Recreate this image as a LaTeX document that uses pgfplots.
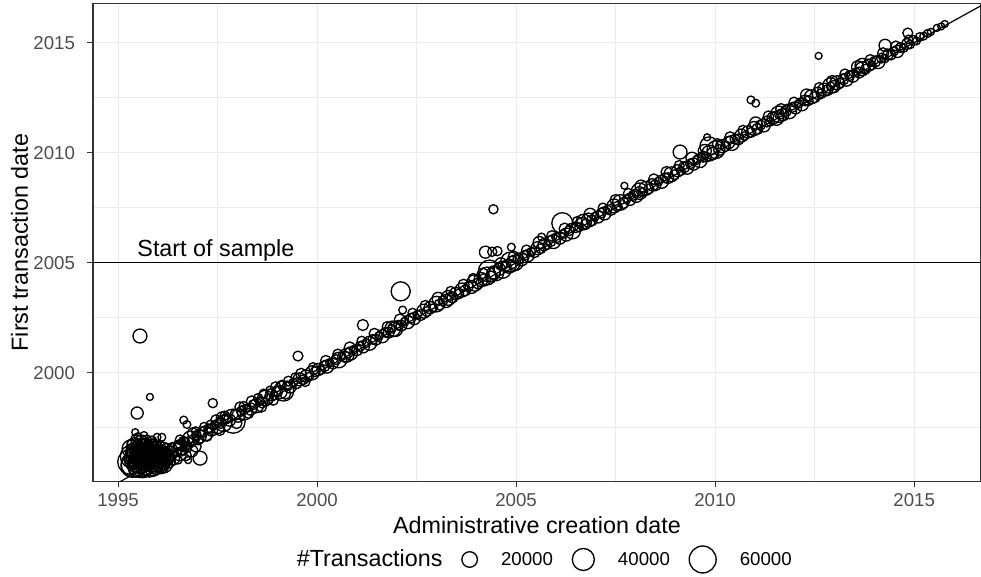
\documentclass[border=0pt]{standalone}
\usepackage{pgfplots}
\pgfplotsset{compat=1.18}
\usepackage{pgfplotstable}
\usepackage{fontspec}
\setmainfont{Liberation Sans}
\definecolor{gray20}{HTML}{333333}
\definecolor{gray30}{HTML}{4D4D4D}
\definecolor{gray92}{HTML}{EBEBEB}

\pgfplotstableread{
x y n
1995.30 1995.95 50
1995.35 1996.20 45
1995.40 1995.85 55
1995.45 1996.40 35
1995.50 1996.05 60
1995.55 1995.80 50
1995.60 1996.30 45
1995.65 1996.55 30
1995.70 1995.95 55
1995.75 1996.20 40
1995.80 1995.80 45
1995.85 1996.45 30
1995.90 1996.05 50
1995.95 1995.85 35
1996.00 1996.30 30
1996.05 1996.00 40
1996.10 1996.50 20
1996.15 1995.85 25
1996.20 1996.20 25
1996.25 1996.00 18
1996.30 1996.35 16
1996.38 1996.10 14
1995.32 1996.55 25
1995.42 1996.70 20
1995.55 1996.60 25
1995.70 1996.70 15
1995.80 1996.65 18
1995.95 1996.65 12
1995.35 1995.75 40
1995.62 1995.70 35
1995.88 1995.70 25
1996.08 1995.75 18
1995.45 1996.95 10
1995.58 1996.90 12
1995.72 1996.95 8
1995.85 1996.90 8
1995.50 1997.10 5
1995.65 1997.15 5
1995.40 1996.15 30
1995.58 1996.15 30
1995.75 1996.45 28
1995.92 1996.30 28
1996.12 1996.25 22
1995.48 1995.65 25
1995.78 1995.62 20
1996.22 1996.55 10
1996.35 1996.60 8
1995.38 1996.00 10
1995.44 1996.28 8
1995.52 1995.92 12
1995.58 1996.45 9
1995.64 1996.02 11
1995.68 1996.38 8
1995.74 1995.88 10
1995.82 1996.12 12
1995.86 1996.28 9
1995.94 1996.48 10
1996.00 1996.12 8
1996.04 1995.90 12
1996.10 1996.38 9
1996.16 1996.08 10
1996.24 1996.30 8
1995.36 1996.38 12
1995.48 1996.52 10
1995.62 1996.58 9
1995.46 1995.78 12
1995.70 1995.74 10
1995.90 1995.92 9
1996.20 1995.92 8
1995.54 1996.22 14
1995.78 1996.02 14
1995.98 1996.08 12
1996.28 1996.18 10
1995.66 1996.82 7
1995.90 1996.80 7
1995.34 1996.78 7
1996.06 1996.70 7
1995.32 1995.78 5
1995.41 1995.80 7
1995.52 1995.76 4
1995.61 1995.79 6
1995.72 1995.77 3
1995.81 1995.80 8
1995.92 1995.76 5
1996.01 1995.79 4
1996.12 1995.78 6
1996.21 1995.80 3
1995.36 1995.93 4
1995.47 1995.95 6
1995.56 1995.91 3
1995.66 1995.94 8
1995.77 1995.92 5
1995.86 1995.95 4
1995.97 1995.91 7
1996.06 1995.94 3
1996.17 1995.92 5
1996.27 1995.95 4
1995.31 1996.08 6
1995.42 1996.06 3
1995.51 1996.10 5
1995.62 1996.07 4
1995.71 1996.09 7
1995.82 1996.06 3
1995.91 1996.10 6
1996.02 1996.07 4
1996.11 1996.09 5
1996.22 1996.06 3
1996.32 1996.10 6
1995.35 1996.23 3
1995.46 1996.21 5
1995.57 1996.25 7
1995.66 1996.22 4
1995.76 1996.24 3
1995.87 1996.21 6
1995.96 1996.25 4
1996.07 1996.22 5
1996.16 1996.24 3
1996.27 1996.21 7
1995.32 1996.38 5
1995.41 1996.36 4
1995.52 1996.40 6
1995.61 1996.37 3
1995.72 1996.39 5
1995.81 1996.36 7
1995.92 1996.40 3
1996.01 1996.37 6
1996.12 1996.39 4
1996.21 1996.36 5
1995.37 1996.53 4
1995.47 1996.55 6
1995.56 1996.51 3
1995.67 1996.54 5
1995.77 1996.52 4
1995.86 1996.55 6
1995.97 1996.51 3
1996.06 1996.54 5
1996.16 1996.52 4
1995.42 1996.68 3
1995.52 1996.70 5
1995.62 1996.67 4
1995.71 1996.69 6
1995.82 1996.66 3
1995.91 1996.70 4
1996.01 1996.67 5
1996.55 1996.30 14
1996.70 1996.25 10
1996.85 1996.45 12
1996.62 1996.45 8
1996.95 1996.65 10
1995.48 1998.17 12
1995.80 1998.90 4
1995.43 1997.30 4
1995.98 1997.07 5
1996.10 1997.07 5
1996.65 1997.85 5
1996.73 1997.65 5
1997.38 1998.62 7
1997.06 1996.12 16
1995.55 2001.67 16
1996.51 1996.03 5
1996.76 1996.03 4
1996.48 1996.40 6
1996.64 1996.90 7
1996.72 1996.60 9
1996.95 1997.35 6
1997.02 1996.95 8
1997.24 1997.10 7
1997.32 1997.65 6
1997.55 1997.40 10
1997.68 1998.05 7
1997.98 1997.70 9
1998.15 1998.50 6
1998.28 1998.15 8
1998.52 1998.85 7
1998.60 1998.45 9
1998.82 1999.20 6
1998.90 1998.75 8
1999.12 1999.45 7
1999.20 1999.05 10
1999.45 1999.80 6
1999.70 1999.60 8
1996.45 1996.55 14
1996.52 1996.70 10
1996.60 1996.62 18
1996.68 1996.85 8
1996.75 1996.80 12
1996.82 1997.00 20
1996.90 1996.95 10
1996.97 1997.15 8
1997.05 1997.10 14
1997.12 1997.30 10
1997.20 1997.25 18
1997.28 1997.45 8
1997.35 1997.40 12
1997.42 1997.60 6
1997.50 1997.55 16
1997.58 1997.72 10
1997.65 1997.70 22
1997.72 1997.90 8
1997.80 1997.85 12
1997.89 1997.80 48
1997.95 1998.10 10
1998.02 1998.05 14
1998.10 1998.25 8
1998.18 1998.20 18
1998.25 1998.40 6
1998.33 1998.35 12
1998.40 1998.55 8
1998.48 1998.50 16
1998.55 1998.70 6
1998.62 1998.65 10
1998.70 1998.85 20
1998.78 1998.80 8
1998.85 1999.00 12
1998.92 1998.95 6
1999.00 1999.15 10
1999.08 1999.12 14
1999.16 1999.17 33
1999.25 1999.40 8
1999.32 1999.35 12
1999.40 1999.55 6
1999.48 1999.52 10
1999.52 2000.76 8
1999.56 1999.70 14
1999.65 1999.68 8
1999.72 1999.85 12
1999.80 1999.82 6
1999.88 2000.00 16
1999.95 2000.05 8
2000.03 2000.15 12
2000.10 2000.12 6
2000.18 2000.30 10
2000.25 2000.28 14
2000.32 2000.45 6
2000.40 2000.42 10
2000.48 2000.60 8
2000.55 2000.58 20
2000.62 2000.75 6
2000.70 2000.72 10
2000.75 2000.80 16
2000.78 2000.90 8
2000.85 2000.88 14
2000.92 2001.05 6
2001.00 2001.02 10
2001.08 2001.20 8
2001.15 2002.17 10
2001.16 2001.18 12
2001.24 2001.35 6
2001.32 2001.34 16
2001.40 2001.52 8
2001.48 2001.50 10
2001.56 2001.68 6
2001.64 2001.66 14
2001.72 2001.84 8
2001.80 2001.82 10
2001.88 2002.00 6
2001.90 2002.00 20
2001.96 2001.98 18
2002.04 2002.16 8
2002.12 2002.14 10
2002.10 2003.70 30
2002.15 2002.85 5
2002.20 2002.32 6
2002.28 2002.30 14
2002.36 2002.48 8
2002.44 2002.46 12
2002.52 2002.64 6
2002.60 2002.62 10
2002.68 2002.80 16
2002.76 2002.78 8
2002.84 2002.96 12
2002.92 2002.94 6
2003.00 2003.12 20
2003.08 2003.10 10
2003.16 2003.28 8
2003.24 2003.26 14
2003.30 2003.40 18
2003.32 2003.44 6
2003.40 2003.42 10
2003.48 2003.60 12
2003.56 2003.58 8
2003.64 2003.76 16
2003.72 2003.74 10
2003.80 2003.92 8
2003.88 2003.90 14
2003.96 2004.08 22
2004.04 2004.06 10
2004.12 2004.24 16
2004.20 2004.22 12
2004.23 2005.48 12
2004.28 2004.40 26
2004.33 2004.62 40
2004.36 2004.38 10
2004.40 2005.50 7
2004.44 2004.56 14
2004.50 2004.52 18
2004.53 2005.53 7
2004.43 2007.43 7
2004.58 2004.70 12
2004.66 2004.68 24
2004.74 2004.86 10
2004.82 2004.84 16
2004.86 2005.03 33
2004.88 2005.71 5
2004.90 2005.02 12
2004.98 2005.00 20
2005.06 2005.18 10
2005.14 2005.16 14
2005.22 2005.34 8
2005.30 2005.32 12
2005.38 2005.50 6
2005.46 2005.48 10
2005.54 2005.66 14
2005.62 2005.64 8
2005.64 2006.17 5
2005.70 2005.82 12
2005.78 2005.80 6
2005.86 2005.98 10
2005.94 2005.96 16
2006.02 2006.14 8
2006.10 2006.12 12
2006.16 2006.80 36
2006.18 2006.30 6
2006.26 2006.28 14
2006.34 2006.46 8
2006.42 2006.44 20
2006.50 2006.62 10
2006.58 2006.60 6
2006.66 2006.78 12
2006.70 2006.85 20
2006.74 2006.76 8
2006.82 2006.94 16
2006.90 2006.92 10
2006.98 2007.10 6
2007.06 2007.08 12
2007.14 2007.26 8
2007.22 2007.24 14
2007.30 2007.42 6
2007.38 2007.40 10
2007.46 2007.58 16
2007.54 2007.56 8
2007.62 2007.74 20
2007.70 2007.72 10
2007.72 2008.50 4
2007.78 2007.90 6
2007.86 2007.88 12
2007.94 2008.06 8
2008.02 2008.04 14
2008.10 2008.25 22
2008.10 2008.22 10
2008.18 2008.20 6
2008.26 2008.38 16
2008.34 2008.36 8
2008.42 2008.54 12
2008.50 2008.52 10
2008.58 2008.70 6
2008.66 2008.68 14
2008.74 2008.86 8
2008.82 2008.84 10
2008.90 2009.02 18
2008.98 2009.00 8
2009.06 2009.18 12
2009.12 2010.03 16
2009.14 2009.16 6
2009.22 2009.34 10
2009.30 2009.32 14
2009.38 2009.50 8
2009.46 2009.48 12
2009.54 2009.66 6
2009.62 2009.64 16
2009.70 2009.82 10
2009.78 2009.80 8
2009.80 2010.70 4
2009.85 2010.30 28
2009.86 2009.98 20
2009.94 2009.96 12
2010.02 2010.14 26
2010.10 2010.12 10
2010.18 2010.30 14
2010.26 2010.28 8
2010.34 2010.46 12
2010.42 2010.44 18
2010.50 2010.62 8
2010.58 2010.60 10
2010.66 2010.78 14
2010.74 2010.76 6
2010.82 2010.94 12
2010.90 2010.92 8
2010.90 2012.40 5
2011.02 2012.25 5
2010.98 2011.10 16
2011.06 2011.08 10
2011.14 2011.26 8
2011.22 2011.24 14
2011.30 2011.42 10
2011.38 2011.40 6
2011.46 2011.58 12
2011.54 2011.56 16
2011.60 2011.75 22
2011.62 2011.74 8
2011.70 2011.72 12
2011.78 2011.90 10
2011.86 2011.88 18
2011.94 2012.06 8
2012.02 2012.04 12
2012.10 2012.22 6
2012.18 2012.20 14
2012.26 2012.38 10
2012.34 2012.36 8
2012.42 2012.54 16
2012.50 2012.52 10
2012.58 2012.70 12
2012.60 2014.40 4
2012.66 2012.68 8
2012.74 2012.86 14
2012.82 2012.84 10
2012.90 2013.05 20
2012.90 2013.02 6
2012.98 2013.00 12
2013.06 2013.18 16
2013.14 2013.16 8
2013.22 2013.34 10
2013.30 2013.32 14
2013.38 2013.50 8
2013.46 2013.48 12
2013.54 2013.66 6
2013.62 2013.64 10
2013.70 2013.95 18
2013.70 2013.82 16
2013.78 2013.80 8
2013.86 2013.98 12
2013.94 2013.96 6
2014.02 2014.14 10
2014.10 2014.12 14
2014.27 2014.88 12
2014.18 2014.30 8
2014.26 2014.28 6
2014.34 2014.46 10
2014.42 2014.44 8
2014.50 2014.62 6
2014.58 2014.60 12
2014.66 2014.78 8
2014.74 2014.76 6
2014.84 2015.44 8
2014.82 2014.94 10
2014.90 2014.92 6
2014.98 2015.10 8
2015.06 2015.08 5
2015.14 2015.26 6
2015.24 2015.30 5
2015.34 2015.42 5
2015.42 2015.49 4
2015.57 2015.67 4
2015.68 2015.74 4
2015.77 2015.85 4
1996.56 1996.95 8
1996.88 1997.25 10
1997.16 1997.55 6
1997.46 1997.85 9
1997.62 1997.95 12
1998.06 1998.45 8
1998.36 1998.70 10
1998.66 1999.05 7
1998.96 1999.35 9
1999.28 1999.62 8
1999.60 1999.95 10
1999.90 2000.25 7
2000.22 2000.55 9
2000.52 2000.85 8
2000.82 2001.15 10
2001.12 2001.45 7
2001.44 2001.78 9
2001.76 2002.10 8
2002.08 2002.42 10
2002.40 2002.72 7
2002.72 2003.05 9
2003.04 2003.38 12
2003.36 2003.70 8
2003.68 2004.00 10
2003.92 2004.30 7
2004.16 2004.52 9
2004.62 2004.95 12
2004.94 2005.28 10
2005.26 2005.58 8
2005.58 2005.92 12
2005.90 2006.22 9
2006.22 2006.55 10
2006.54 2006.88 8
2006.86 2007.20 12
2007.18 2007.50 7
2007.50 2007.85 10
2007.82 2008.15 8
2008.14 2008.48 12
2008.46 2008.80 9
2008.78 2009.12 10
2009.10 2009.42 8
2009.42 2009.75 12
2009.74 2010.08 14
2010.06 2010.40 9
2010.38 2010.70 10
2010.70 2011.02 8
2011.02 2011.35 12
2011.34 2011.66 9
2011.66 2011.98 10
2011.98 2012.30 8
2012.30 2012.62 12
2012.62 2012.95 9
2012.94 2013.26 10
2013.26 2013.58 8
2013.58 2013.90 12
2013.90 2014.22 9
2014.22 2014.52 10
2014.54 2014.85 8
2014.86 2015.15 6
}\pts

\begin{document}
\begin{tikzpicture}
\begin{axis}[
  scale only axis, width=666pt, height=358.8pt,
  xmin=1994.37, xmax=2016.68, ymin=1995.05, ymax=2016.79,
  xtick={1995,2000,2005,2010,2015}, xticklabels={1995,2000,2005,2010,2015},
  ytick={2000,2005,2010,2015}, yticklabels={2000,2005,2010,2015},
  minor xtick={1997.5,2002.5,2007.5,2012.5},
  minor ytick={1997.5,2002.5,2007.5,2012.5},
  grid=both,
  major grid style={gray92, line width=0.8pt},
  minor grid style={gray92, line width=0.45pt},
  minor tick length=0pt, major tick length=4.3pt,
  tick align=outside, xtick pos=bottom, ytick pos=left,
  tick style={gray20, line width=0.8pt},
  axis line style={gray20, line width=0.8pt},
  ticklabel style={font=\fontsize{14}{16}\selectfont, text=gray30, inner sep=0pt},
  xticklabel style={anchor=north, yshift=-4.5pt},
  yticklabel style={anchor=east, xshift=-9pt},
  xlabel={Administrative creation date},
  ylabel={First transaction date},
  label style={font=\fontsize{17.5}{20}\selectfont, inner sep=0pt},
  xlabel style={at={(axis description cs:0.5,-0.1073)}, anchor=base},
  ylabel style={at={(axis description cs:-0.0732,0.5)}, anchor=base},
  clip marker paths=true,
  legend style={draw=none, fill=none, legend columns=-1,
    at={(axis description cs:0.5,-0.1626)}, anchor=center, xshift=-2.4pt,
    font=\fontsize{14}{16}\selectfont,
    /tikz/every odd column/.append style={column sep=15.75pt},
    /tikz/every even column/.append style={column sep=12.5pt}},
]
\addplot[black, line width=1.1pt, forget plot] coordinates {(1994.37,2005) (2016.68,2005)};
\addplot[scatter, only marks, mark=o, line width=1.0pt, black, forget plot,
  scatter/use mapped color={draw=black, fill=none},
  visualization depends on={1.3044*sqrt(\thisrow{n}) \as \rad},
  scatter/@pre marker code/.append style={/tikz/mark size=\rad pt}]
  table[x=x, y=y] {\pts};
\addplot[black, line width=0.9pt, forget plot] coordinates {(1995,1995) (2016.8,2016.8)};
\node[anchor=base west, inner sep=0pt, font=\fontsize{17.5}{20}\selectfont]
  at (axis cs:1995.48,2005) [yshift=4.5pt] {Start of sample};
\addlegendimage{empty legend}
\addlegendentry{\fontsize{17.5}{20}\selectfont\#Transactions}
\addlegendimage{only marks, mark=o, black, line width=1.0pt, mark size=5.83pt}
\addlegendentry{20000}
\addlegendimage{only marks, mark=o, black, line width=1.0pt, mark size=8.25pt}
\addlegendentry{40000}
\addlegendimage{only marks, mark=o, black, line width=1.0pt, mark size=10.10pt}
\addlegendentry{60000}
\end{axis}
\pgfresetboundingbox
\path[use as bounding box] (-69.75pt,-71.475pt) rectangle (666pt,361.275pt);
\end{tikzpicture}
\end{document}
